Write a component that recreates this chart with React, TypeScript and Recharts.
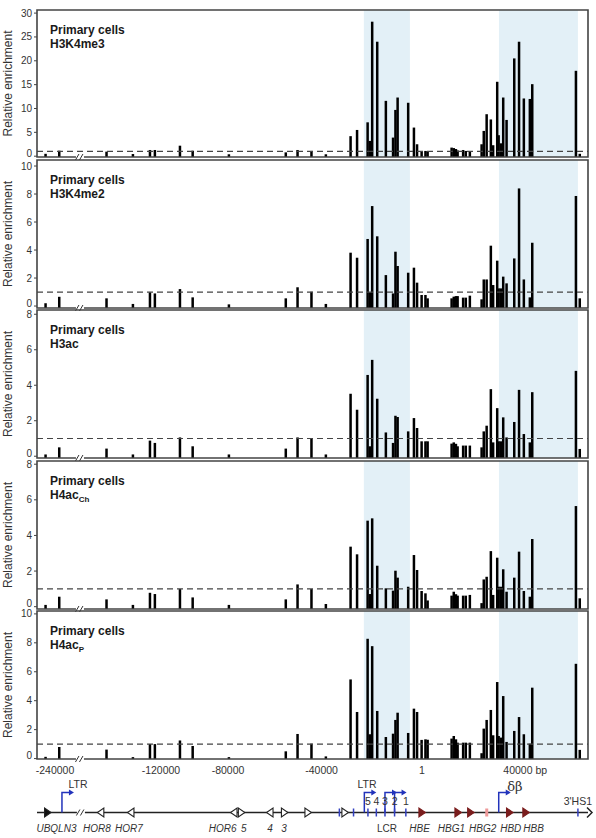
import React from 'react';
import {
  ComposedChart, Bar, Scatter, XAxis, YAxis,
  ReferenceArea, ReferenceLine, ReferenceDot,
} from 'recharts';

const FONT = '"Liberation Sans", Arial, Helvetica, sans-serif';

// Amplicon positions on the displayed map (kb, HBE = 0; the region left of the break is compressed)
const positions = [
  -156.8, -151.1, -131.4, -120.4, -113.3, -111.25, -100.8, -95.5, -80.4, -56.7,
  -51.8, -46.0, -40.0, -29.7, -27.0, -22.6, -21.7, -20.7, -18.6, -15.0,
  -12.0, -11.0, -10.1, -5.7, -3.3, -2.0, -0.1, 1.5, 2.4, 12.4,
  13.3, 14.2, 14.9, 17.2, 18.3, 20.0, 24.9, 25.8, 27.0, 28.75,
  29.7, 31.4, 32.0, 32.9, 33.9, 35.3, 38.5, 40.5, 42.5, 45.0,
  46.0, 64.2, 65.8,
];

const h3k4me3 = [
  0.5, 1.15, 0.95, 0.45, 1.3, 1.3, 2.2, 1.15, 0.4, 0.8,
  1.3, 1.1, 0.4, 4.2, 5.5, 7.1, 3.2, 28.2, 24.0, 11.6,
  3.9, 9.7, 12.3, 11.2, 6.0, 2.5, 0.9, 1.1, 1.0, 1.8,
  1.7, 1.5, 1.2, 1.3, 1.1, 0.9, 2.5, 5.3, 8.8, 7.7,
  2.3, 15.6, 4.4, 2.7, 12.3, 7.6, 20.5, 24.0, 12.1, 12.0,
  15.1, 17.9, 0.5,
];

const h3k4me2 = [
  0.2, 0.66, 0.55, 0.15, 0.98, 0.9, 1.21, 0.62, 0.12, 0.55,
  1.34, 1.02, 0.15, 3.81, 3.45, 4.79, 0.98, 7.14, 4.98, 2.21,
  0.9, 3.88, 2.86, 2.38, 2.74, 1.67, 0.79, 0.79, 0.55, 0.55,
  0.67, 0.71, 0.71, 0.6, 0.6, 0.74, 0.48, 1.9, 1.9, 4.31,
  1.5, 3.24, 1.26, 1.26, 2.1, 1.62, 3.4, 8.4, 1.9, 0.62,
  4.52, 7.86, 0.55,
];

const h3ac = [
  0.1, 0.5, 0.43, 0.1, 0.88, 0.75, 1.06, 0.56, 0.1, 0.43,
  1.06, 0.97, 0.1, 3.52, 2.62, 4.58, 0.56, 5.43, 3.24, 1.34,
  0.75, 2.28, 2.21, 1.4, 2.15, 1.59, 0.84, 0.84, 0.84, 0.71,
  0.78, 0.7, 0.56, 0.6, 0.6, 0.6, 0.5, 1.4, 1.72, 3.78,
  0.78, 2.71, 0.84, 0.84, 2.19, 1.06, 1.93, 3.74, 1.25, 0.78,
  3.61, 4.81, 0.41,
];

const h4acCh = [
  0.1, 0.56, 0.41, 0.1, 0.78, 0.71, 0.99, 0.52, 0.1, 0.41,
  1.25, 0.99, 0.15, 3.37, 2.94, 4.83, 0.71, 4.96, 2.3, 1.03,
  0.9, 2.02, 1.63, 1.12, 2.9, 2.06, 0.88, 0.75, 0.35, 0.62,
  0.84, 0.7, 0.62, 0.62, 0.62, 0.66, 0.2, 1.53, 1.68, 3.12,
  0.66, 2.75, 1.12, 1.12, 2.1, 0.84, 1.63, 3.09, 0.88, 0.56,
  3.8, 5.65, 0.47,
];

const h4acP = [
  0.12, 0.8, 0.62, 0.1, 1.0, 1.0, 1.25, 0.87, 0.1, 0.5,
  1.7, 1.03, 0.15, 5.47, 3.22, 8.28, 1.68, 7.77, 3.29, 1.49,
  1.72, 2.67, 3.17, 1.77, 3.45, 3.22, 1.29, 1.33, 1.3, 1.38,
  1.56, 1.33, 1.1, 1.1, 1.1, 1.1, 0.37, 2.07, 2.67, 3.36,
  1.61, 5.29, 1.56, 1.45, 4.32, 1.15, 1.91, 2.87, 1.68, 1.03,
  4.9, 6.55, 0.6,
];

const X_DOMAIN: [number, number] = [-160.4, 69.2];
const BREAK_AT = -142.5;
const xTickValues = [-152.9, -108.75, -80.8, -41.8, 0, 40];
const xTickLabels = ['-240000', '-120000', '-80000', '-40000', '1', '40000 bp'];
const lcrBand = [-24.2, -5.0];
const globinBand = [32.1, 65.0];

// Gene map
const genePos = [-156.0, -133.8, -121.25, -78.3, -75.25, -63.3, -57.3, -47.5, -32.1, 0, 15, 20.3, 36.5, 43.3];
const geneStrand = [1, -1, -1, -1, 1, -1, 1, 1, 1, 1, 1, 1, 1, 1];
const geneKind = ['dark', 'open', 'open', 'open', 'open', 'open', 'open', 'open', 'open', 'globin', 'globin', 'globin', 'globin', 'globin'];
const geneLabels = ['UBQLN3', 'HOR8', 'HOR7', 'HOR6', '5', '4', '3', 'LCR', 'HBE', 'HBG1', 'HBG2', 'HBD', 'HBB'];
const geneLabelPos = [-152.3, -135.4, -122.1, -83.0, -74.2, -63.3, -57.5, -14.6, -1.0, 12.3, 25.3, 37.0, 46.5];
const geneItalic = [true, true, true, true, true, true, true, false, true, true, true, true, true];
const hsPos = [-34.4, -28.5, -22.5, -19.0, -15.4, -11.4, -6.7, 65.0];
const hsLabels = ['', '', '5', '4', '3', '2', '1', "3'HS1"];
const promoterPos = [-150.0, -24.0, -15.4, -11.4, 32.0];
const topLabels = ['LTR', 'LTR', 'δβ'];
const topLabelPos = [-143.3, -22.9, 38.75];
const pseudoPos = [27.0];
const GENE_BREAK_AT = -142.1;

const panels = [
  { mark: 'H3K4me3', sub: '', values: h3k4me3, ticks: [0, 5, 10, 15, 20, 25, 30], domain: [-0.17, 30.65], top: 10, bottom: 157 },
  { mark: 'H3K4me2', sub: '', values: h3k4me2, ticks: [0, 2, 4, 6, 8, 10], domain: [-0.14, 10.43], top: 160, bottom: 308 },
  { mark: 'H3ac', sub: '', values: h3ac, ticks: [0, 2, 4, 6, 8], domain: [-0.1, 8.24], top: 310, bottom: 458 },
  { mark: 'H4ac', sub: 'Ch', values: h4acCh, ticks: [0, 2, 4, 6, 8], domain: [-0.13, 8.18], top: 461, bottom: 609 },
  { mark: 'H4ac', sub: 'P', values: h4acP, ticks: [0, 2, 4, 6, 8, 10], domain: [-0.03, 10.2], top: 611, bottom: 759 },
];

const BarShape = (props: any) => {
  const { x, y, width, height } = props;
  if (x == null || y == null) return null;
  const cx = x + (width || 0) / 2;
  const top = Math.min(y, y + height);
  const h = Math.abs(height);
  return <rect x={cx - 1.25} y={top} width={2.5} height={h} fill="#000" />;
};

const BreakMark = (props: any) => {
  const { cx, cy } = props;
  if (cx == null) return null;
  return (
    <g>
      <rect x={cx - 4} y={cy - 2} width={8} height={4} fill="#fff" />
      <line x1={cx - 4.5} y1={cy + 3} x2={cx - 1} y2={cy - 3} stroke="#333" strokeWidth={1} />
      <line x1={cx - 0.5} y1={cy + 3} x2={cx + 3} y2={cy - 3} stroke="#333" strokeWidth={1} />
    </g>
  );
};

const XTick = (props: any) => {
  const { x, y, payload } = props;
  const i = xTickValues.indexOf(payload.value);
  const label = xTickLabels[i] ?? '';
  const style = { fontSize: 10.5, fill: '#333', fontFamily: FONT };
  if (label.endsWith(' bp')) {
    return <text x={x - 14.6} y={y} dy="0.71em" textAnchor="start" style={style}>{label}</text>;
  }
  return <text x={x} y={y} dy="0.71em" textAnchor="middle" style={style}>{label}</text>;
};

const YTick = (props: any) => {
  const { x, y, payload } = props;
  const shift = payload.value === 0 ? -3 : 0;
  return (
    <text x={x} y={y + shift} dy="0.355em" textAnchor="end"
      style={{ fontSize: 10, fill: '#333', fontFamily: FONT }}>
      {payload.value}
    </text>
  );
};

function Panel({ cfg, showX }: { cfg: any; showX: boolean }) {
  const rows = positions.map((p, i) => ({ pos: p, range: [cfg.domain[0], cfg.values[i]] }));
  const mt = 6;
  const plotH = cfg.bottom - cfg.top;
  const xh = 30;
  const height = mt + plotH + (showX ? xh : 6);
  return (
    <div style={{ position: 'absolute', left: 0, top: cfg.top - mt }}>
      <ComposedChart width={596} height={height} data={rows}
        margin={{ top: mt, right: 8, bottom: showX ? 0 : 6, left: 0 }}>
        <XAxis type="number" dataKey="pos" domain={X_DOMAIN} allowDataOverflow hide={!showX}
          ticks={xTickValues} interval={0} tick={XTick} axisLine={false} tickLine={false} height={xh} />
        <YAxis type="number" domain={cfg.domain} allowDataOverflow ticks={cfg.ticks} interval={0}
          width={37} tickSize={3} tickMargin={2} axisLine={false}
          tickLine={{ stroke: '#444' }}
          tick={YTick}
          label={{ value: 'Relative enrichment', angle: -90, position: 'insideLeft', offset: 8,
            style: { textAnchor: 'middle', fontSize: 12, fill: '#333', fontFamily: FONT } }} />
        <ReferenceArea x1={lcrBand[0]} x2={lcrBand[1]} fill="#e3f0f7" fillOpacity={1} stroke="none" zIndex={-50} />
        <ReferenceArea x1={globinBand[0]} x2={globinBand[1]} fill="#e3f0f7" fillOpacity={1} stroke="none" zIndex={-50} />
        <Bar dataKey="range" shape={BarShape} isAnimationActive={false} />
        <ReferenceLine y={1} stroke="#444" strokeWidth={1.2} strokeDasharray="6 4" zIndex={800} />
        <ReferenceArea x1={X_DOMAIN[0]} x2={X_DOMAIN[1]} y1={cfg.domain[0]} y2={cfg.domain[1]}
          fill="none" stroke="#444" strokeWidth={1.6} ifOverflow="visible" zIndex={900} />
        <ReferenceDot x={BREAK_AT} y={cfg.domain[0]} shape={BreakMark} ifOverflow="visible" zIndex={950} />
      </ComposedChart>
    </div>
  );
}

const GeneTri = (props: any) => {
  const { cx, cy, payload } = props;
  if (cx == null) return null;
  const s = payload.strand;
  const fill = payload.kind === 'dark' ? '#111' : payload.kind === 'globin' ? '#7a1d1d' : '#fff';
  const stroke = payload.kind === 'globin' ? '#7a1d1d' : '#222';
  const pts = s > 0
    ? `${cx - 3},${cy - 4.5} ${cx - 3},${cy + 4.5} ${cx + 3.5},${cy}`
    : `${cx + 3},${cy - 4.5} ${cx + 3},${cy + 4.5} ${cx - 3.5},${cy}`;
  return <polygon points={pts} fill={fill} stroke={stroke} strokeWidth={1.1} />;
};

const HsTick = (props: any) => {
  const { cx, cy, payload } = props;
  if (cx == null) return null;
  return (
    <g>
      <line x1={cx} y1={cy - 4} x2={cx} y2={cy + 4} stroke="#3340c0" strokeWidth={1.5} />
      {payload.text ? (
        <text x={cx} y={cy - 8} textAnchor="middle" style={{ fontSize: 10.5, fill: '#333', fontFamily: FONT }}>{payload.text}</text>
      ) : null}
    </g>
  );
};

const PromoterArrow = (props: any) => {
  const { cx, cy } = props;
  if (cx == null) return null;
  const top = cy - 20;
  return (
    <g>
      <polyline points={`${cx},${cy} ${cx},${top} ${cx + 8},${top}`} fill="none" stroke="#2233bb" strokeWidth={1.5} />
      <polygon points={`${cx + 7},${top - 3} ${cx + 12},${top} ${cx + 7},${top + 3}`} fill="#2233bb" />
    </g>
  );
};

const Pseudo = (props: any) => {
  const { cx, cy } = props;
  if (cx == null) return null;
  return <rect x={cx - 1.5} y={cy - 4} width={3} height={8} fill="#ee9a9a" />;
};

const NameText = (props: any) => {
  const { cx, cy, payload } = props;
  if (cx == null) return null;
  return (
    <text x={cx} y={cy + 19} textAnchor="middle"
      style={{ fontSize: 10, fill: '#333', fontFamily: FONT, fontStyle: payload.italic ? 'italic' : 'normal' }}>
      {payload.text}
    </text>
  );
};

const TopText = (props: any) => {
  const { cx, cy, payload } = props;
  if (cx == null) return null;
  const greek = payload.text === 'δβ';
  return (
    <text x={cx} y={greek ? cy - 22 : cy - 25} textAnchor="middle"
      style={{ fontSize: greek ? 13 : 10.5, fill: '#333', fontFamily: greek ? '"DejaVu Serif", serif' : FONT }}>
      {payload.text}
    </text>
  );
};

const Chevron = (props: any) => {
  const { cx, cy } = props;
  if (cx == null) return null;
  return <polyline points={`${cx - 1},${cy - 5} ${cx + 4},${cy} ${cx - 1},${cy + 5}`} fill="none" stroke="#222" strokeWidth={1.5} />;
};

function GeneMap() {
  const tri = genePos.map((p, i) => ({ x: p, y: 0.5, strand: geneStrand[i], kind: geneKind[i] }));
  const names = geneLabelPos.map((p, i) => ({ x: p, y: 0.5, text: geneLabels[i], italic: geneItalic[i] }));
  const hs = hsPos.map((p, i) => ({ x: p, y: 0.5, text: hsLabels[i] }));
  const prom = promoterPos.map((p) => ({ x: p, y: 0.5 }));
  const tops = topLabelPos.map((p, i) => ({ x: p, y: 0.5, text: topLabels[i] }));
  const pseudo = pseudoPos.map((p) => ({ x: p, y: 0.5 }));
  return (
    <div style={{ position: 'absolute', left: 0, top: 775 }}>
      <ComposedChart width={596} height={75} margin={{ top: 0, right: 8, bottom: 0, left: 37 }}>
        <XAxis type="number" dataKey="x" domain={X_DOMAIN} hide />
        <YAxis type="number" dataKey="y" domain={[0, 1]} hide />
        <ReferenceLine y={0.5} stroke="#222" strokeWidth={1.5} ifOverflow="visible" />
        <ReferenceDot x={X_DOMAIN[1]} y={0.5} shape={Chevron} ifOverflow="visible" />
        <ReferenceDot x={GENE_BREAK_AT} y={0.5} shape={BreakMark} ifOverflow="visible" />
        <Scatter data={prom} shape={PromoterArrow} isAnimationActive={false} />
        <Scatter data={hs} shape={HsTick} isAnimationActive={false} />
        <Scatter data={pseudo} shape={Pseudo} isAnimationActive={false} />
        <Scatter data={tri} shape={GeneTri} isAnimationActive={false} />
        <Scatter data={names} shape={NameText} isAnimationActive={false} />
        <Scatter data={tops} shape={TopText} isAnimationActive={false} />
      </ComposedChart>
    </div>
  );
}

export default function App() {
  return (
    <div style={{ position: 'relative', width: 596, height: 838, overflow: 'hidden', background: '#fff' }}>
      <style>{'html,body{margin:0;padding:0;background:#fff;}'}</style>
      {panels.map((cfg, i) => (
        <Panel key={i} cfg={cfg} showX={i === panels.length - 1} />
      ))}
      {panels.map((cfg, i) => (
        <div key={'t' + i} style={{
          position: 'absolute', left: 50, top: cfg.top + 12.5,
          fontFamily: FONT, fontWeight: 'bold', fontSize: 12, lineHeight: '14.5px', color: '#1a1a1a',
        }}>
          <div>Primary cells</div>
          <div>
            {cfg.mark}
            {cfg.sub ? <span style={{ fontSize: 8, position: 'relative', top: 3 }}>{cfg.sub}</span> : null}
          </div>
        </div>
      ))}
      <GeneMap />
    </div>
  );
}
